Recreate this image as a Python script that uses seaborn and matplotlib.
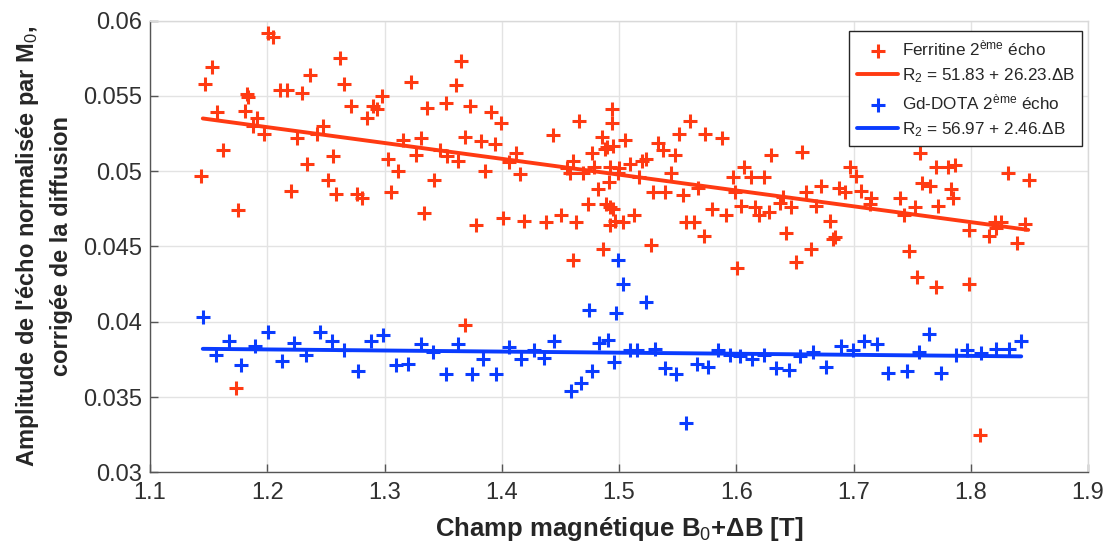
import numpy as np
import pandas as pd
import matplotlib
matplotlib.use("Agg")
import matplotlib.pyplot as plt
import seaborn as sns

# --------------------------------------------------
# DATA
# --------------------------------------------------

ferritine_b = [
    1.2009, 1.2051, 1.1526, 1.1469, 1.1824, 1.1838, 1.1569, 1.1810, 1.1910, 1.1881,
    1.1974, 1.2108, 1.2171, 1.2293, 1.2364, 1.2620, 1.2656, 1.2714, 1.2477, 1.2421,
    1.2251, 1.1625, 1.1435, 1.2336, 1.2558, 1.2520, 1.2586, 1.2202, 1.2762, 1.1753,
    1.1733, 1.2847, 1.2899, 1.2938, 1.2980, 1.3225, 1.3359, 1.3523, 1.3609, 1.3651,
    1.3728, 1.3904, 1.3990, 1.3159, 1.3310, 1.3685, 1.3822, 1.3941, 1.3026, 1.3112,
    1.3268, 1.3472, 1.3535, 1.3623, 1.3856, 1.4063, 1.4118, 1.4154, 1.3421, 1.2810,
    1.3055, 1.3336, 1.3777, 1.4012, 1.4191, 1.3685, 1.4376, 1.4438, 1.4501, 1.4609,
    1.4552, 1.4581, 1.4660, 1.4689, 1.4629, 1.4609, 1.4737, 1.4766, 1.4788, 1.4822,
    1.4851, 1.4865, 1.4879, 1.4899, 1.4945, 1.4941, 1.4941, 1.4922, 1.4916, 1.4887,
    1.4922, 1.4950, 1.4964, 1.4922, 1.4998, 1.4992, 1.5035, 1.5049, 1.5092, 1.5126,
    1.5169, 1.5192, 1.5234, 1.5271, 1.5291, 1.5333, 1.5376, 1.5396, 1.5442, 1.5476,
    1.5512, 1.5604, 1.5546, 1.5567, 1.5638, 1.5674, 1.5731, 1.5879, 1.5723, 1.5789,
    1.5911, 1.5968, 1.5987, 1.6010, 1.6066, 1.6038, 1.6124, 1.6158, 1.6194, 1.6237,
    1.6277, 1.6300, 1.6371, 1.6399, 1.6465, 1.6422, 1.6513, 1.6564, 1.6598, 1.6633,
    1.6684, 1.6726, 1.6797, 1.6825, 1.6840, 1.6876, 1.6925, 1.6974, 1.7025, 1.7067,
    1.7153, 1.7138, 1.7570, 1.7707, 1.7806, 1.7863, 1.7584, 1.7656, 1.7829, 1.7848,
    1.7400, 1.7522, 1.7720, 1.7428, 1.8317, 1.8496, 1.8204, 1.8261, 1.8218, 1.8459,
    1.7985, 1.8155, 1.8397, 1.7473, 1.7545, 1.7707, 1.7982, 1.8076,
]
ferritine_amp = [
    0.0592, 0.0589, 0.0569, 0.0558, 0.0551, 0.0549, 0.0539, 0.0540, 0.0535, 0.0530,
    0.0525, 0.0554, 0.0554, 0.0552, 0.0564, 0.0575, 0.0558, 0.0543, 0.0530, 0.0525,
    0.0522, 0.0514, 0.0497, 0.0505, 0.0510, 0.0494, 0.0485, 0.0487, 0.0485, 0.0474,
    0.0356, 0.0535, 0.0543, 0.0541, 0.0550, 0.0559, 0.0542, 0.0545, 0.0557, 0.0573,
    0.0543, 0.0539, 0.0532, 0.0521, 0.0522, 0.0523, 0.0520, 0.0518, 0.0508, 0.0500,
    0.0511, 0.0514, 0.0510, 0.0507, 0.0500, 0.0506, 0.0512, 0.0498, 0.0494, 0.0482,
    0.0486, 0.0472, 0.0464, 0.0469, 0.0467, 0.0398, 0.0466, 0.0524, 0.0471, 0.0507,
    0.0502, 0.0499, 0.0533, 0.0499, 0.0466, 0.0441, 0.0478, 0.0512, 0.0503, 0.0488,
    0.0523, 0.0448, 0.0515, 0.0516, 0.0517, 0.0541, 0.0532, 0.0503, 0.0493, 0.0478,
    0.0476, 0.0475, 0.0467, 0.0464, 0.0502, 0.0499, 0.0466, 0.0521, 0.0505, 0.0471,
    0.0496, 0.0507, 0.0508, 0.0451, 0.0486, 0.0519, 0.0514, 0.0486, 0.0499, 0.0511,
    0.0525, 0.0533, 0.0484, 0.0466, 0.0466, 0.0489, 0.0525, 0.0522, 0.0457, 0.0475,
    0.0471, 0.0496, 0.0486, 0.0436, 0.0503, 0.0477, 0.0496, 0.0476, 0.0471, 0.0496,
    0.0473, 0.0511, 0.0479, 0.0483, 0.0476, 0.0459, 0.0440, 0.0513, 0.0486, 0.0448,
    0.0477, 0.0490, 0.0467, 0.0455, 0.0456, 0.0489, 0.0486, 0.0503, 0.0497, 0.0487,
    0.0482, 0.0478, 0.0512, 0.0503, 0.0503, 0.0504, 0.0492, 0.0490, 0.0488, 0.0482,
    0.0482, 0.0476, 0.0477, 0.0471, 0.0499, 0.0494, 0.0466, 0.0466, 0.0462, 0.0465,
    0.0461, 0.0457, 0.0452, 0.0447, 0.0430, 0.0423, 0.0425, 0.0325,
]

gddota_b = [
    1.1454, 1.1563, 1.1676, 1.1776, 1.1898, 1.2009, 1.2128, 1.2228, 1.2330, 1.2449,
    1.2554, 1.2656, 1.2771, 1.2882, 1.2989, 1.3095, 1.3197, 1.3310, 1.3415, 1.3523,
    1.3628, 1.3742, 1.3841, 1.3947, 1.4063, 1.4160, 1.4274, 1.4359, 1.4447, 1.4587,
    1.4674, 1.4766, 1.4743, 1.4830, 1.4907, 1.4956, 1.4970, 1.4987, 1.5030, 1.5092,
    1.5149, 1.5228, 1.5305, 1.5396, 1.5484, 1.5575, 1.5661, 1.5760, 1.5845, 1.5945,
    1.6030, 1.6130, 1.6234, 1.6337, 1.6448, 1.6541, 1.6655, 1.6763, 1.6897, 1.6996,
    1.7087, 1.7200, 1.7294, 1.7459, 1.7558, 1.7641, 1.7743, 1.7871, 1.7971, 1.8084,
    1.8212, 1.8323, 1.8431,
]
gddota_amp = [
    0.0403, 0.0378, 0.0387, 0.0371, 0.0384, 0.0393, 0.0374, 0.0386, 0.0378, 0.0393,
    0.0387, 0.0381, 0.0367, 0.0387, 0.0391, 0.0371, 0.0372, 0.0385, 0.0380, 0.0365,
    0.0385, 0.0365, 0.0375, 0.0365, 0.0383, 0.0375, 0.0381, 0.0376, 0.0387, 0.0354,
    0.0359, 0.0367, 0.0408, 0.0386, 0.0388, 0.0373, 0.0406, 0.0441, 0.0425, 0.0381,
    0.0381, 0.0413, 0.0382, 0.0369, 0.0365, 0.0333, 0.0372, 0.0370, 0.0381, 0.0378,
    0.0377, 0.0375, 0.0378, 0.0369, 0.0368, 0.0377, 0.0380, 0.0370, 0.0384, 0.0381,
    0.0387, 0.0385, 0.0366, 0.0367, 0.0380, 0.0392, 0.0366, 0.0378, 0.0381, 0.0379,
    0.0382, 0.0382, 0.0387,
]

# fitted lines (end points)
ferritine_fit_b = [1.145, 1.849]
ferritine_fit_amp = [0.0535, 0.0461]
gddota_fit_b = [1.145, 1.843]
gddota_fit_amp = [0.0382, 0.0377]

x_ticks = [1.1, 1.2, 1.3, 1.4, 1.5, 1.6, 1.7, 1.8, 1.9]
y_ticks = [0.03, 0.035, 0.04, 0.045, 0.05, 0.055, 0.06]

labels = {
    "ferritine": "Ferritine 2$^{\\rm ème}$ écho",
    "ferritine_fit": "R$_2$ = 51.83 + 26.23.ΔB",
    "gddota": "Gd-DOTA 2$^{\\rm ème}$ écho",
    "gddota_fit": "R$_2$ = 56.97 + 2.46.ΔB",
}

RED = "#ff3a12"
BLUE = "#0a3cff"

# --------------------------------------------------
# PLOT
# --------------------------------------------------

sns.set_style("whitegrid")
plt.rcParams["font.family"] = ["Liberation Sans", "DejaVu Sans"]
plt.rcParams["mathtext.fontset"] = "custom"
plt.rcParams["mathtext.rm"] = "Liberation Sans"
plt.rcParams["mathtext.it"] = "Liberation Sans"
plt.rcParams["mathtext.bf"] = "Liberation Sans:bold"

fig = plt.figure(figsize=(11.08, 5.49), dpi=100)
ax = fig.add_axes([0.1354, 0.1397, 0.8466, 0.8228])

df_f = pd.DataFrame({"B": ferritine_b, "amp": ferritine_amp})
df_g = pd.DataFrame({"B": gddota_b, "amp": gddota_amp})

sns.scatterplot(data=df_f, x="B", y="amp", marker="+", s=90, linewidth=2.2,
                color=RED, ax=ax, label=labels["ferritine"], zorder=3)
sns.lineplot(x=ferritine_fit_b, y=ferritine_fit_amp, color=RED, linewidth=2.8,
             ax=ax, label=labels["ferritine_fit"], zorder=4)
sns.scatterplot(data=df_g, x="B", y="amp", marker="+", s=90, linewidth=2.2,
                color=BLUE, ax=ax, label=labels["gddota"], zorder=3)
sns.lineplot(x=gddota_fit_b, y=gddota_fit_amp, color=BLUE, linewidth=2.8,
             ax=ax, label=labels["gddota_fit"], zorder=4)

ax.set_xlim(1.1, 1.9)
ax.set_ylim(0.03, 0.06)
ax.set_xticks(x_ticks)
ax.set_yticks(y_ticks)
ax.set_xticklabels([f"{t:g}" for t in x_ticks])
ax.set_yticklabels([f"{t:g}" for t in y_ticks])

ax.grid(True, color="#e3e3e3", linewidth=1.0)
ax.tick_params(axis="both", direction="in", length=6, width=1, colors="#555555",
               labelsize=17, labelcolor="#303030", pad=6,
               left=True, bottom=True)
ax.tick_params(axis="x", pad=7)
for side in ["left", "bottom"]:
    ax.spines[side].set_color("#555555")
    ax.spines[side].set_linewidth(1.0)
for side in ["top", "right"]:
    ax.spines[side].set_color("#d9d9d9")
    ax.spines[side].set_linewidth(1.0)

ax.set_xlabel("Champ magnétique B$_0$+ΔB [T]", fontsize=18.5, fontweight="bold",
              color="#262626", labelpad=8)
ax.set_ylabel("Amplitude de l'écho normalisée par M$_0$,\ncorrigée de la diffusion",
              fontsize=17, fontweight="bold", color="#262626", labelpad=7,
              linespacing=1.5)

leg = ax.legend(loc="upper right", bbox_to_anchor=(0.9975, 0.985), fontsize=12.3,
                frameon=True, fancybox=False, framealpha=1, edgecolor="#262626",
                handlelength=2.4, handletextpad=0.2, borderpad=0.45,
                labelspacing=0.45, borderaxespad=0.2)
leg.get_frame().set_linewidth(1.0)

plt.savefig("out.png", dpi=100)
